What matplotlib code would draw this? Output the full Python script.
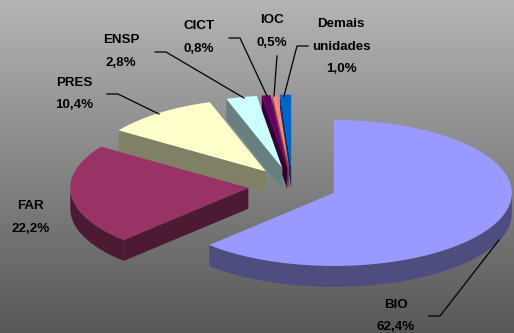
import numpy as np
import matplotlib
matplotlib.use("Agg")
import matplotlib.pyplot as plt
from matplotlib.patches import Polygon

categories = ["BIO", "FAR", "PRES", "ENSP", "CICT", "IOC", "Demais\nunidades"]
values = [62.4, 22.2, 10.4, 2.8, 0.8, 0.5, 1.0]
value_labels = ["62,4%", "22,2%", "10,4%", "2,8%", "0,8%", "0,5%", "1,0%"]
top_colors = ["#9999FF", "#993366", "#FFFFCC", "#CCFFFF", "#660066", "#FF8080", "#0066CC"]
side_colors = ["#4D4D80", "#4D1A33", "#808066", "#668080", "#330033", "#804040", "#003366"]
label_xy = [(396, 316), (30.5, 217.5), (74.5, 94), (121, 51.5), (199, 37.5), (272, 31.5), (341, 46.5)]
leaders = [
    [(429, 316), (440, 316), (499, 240)],
    None,
    [(107, 94), (118, 94), (159, 114)],
    [(155, 52), (166, 52), (244, 98)],
    [(229, 38), (240, 38), (267, 96)],
    [(277, 56), (274, 96)],
    [(308, 46), (297, 46), (284, 96)],
]

W, H = 514, 333
CX, CY, A, B, DEPTH, EXPLODE = 292.6, 186.0, 178.0, 73.0, 21.0, 0.25

fig = plt.figure(figsize=(W / 100, H / 100), dpi=100)
ax = fig.add_axes([0, 0, 1, 1])
ax.set_xlim(0, W)
ax.set_ylim(H, 0)
ax.axis("off")

grad = np.linspace(0, 1, 256).reshape(-1, 1)
ax.imshow(grad, extent=(0, W, H, 0), cmap=matplotlib.colors.LinearSegmentedColormap.from_list("g", ["#B4B4B4", "#585858"]),
          aspect="auto", zorder=0, interpolation="bilinear")

fractions = np.array(values) / np.sum(values)
edges = np.concatenate([[0], np.cumsum(fractions)]) * 2 * np.pi


def point(c, t):
    return c[0] + A * np.sin(t), c[1] - B * np.cos(t)


for i in range(len(values) - 1, -1, -1):
    s, e = edges[i], edges[i + 1]
    mid = (s + e) / 2
    c = (CX + EXPLODE * A * np.sin(mid), CY - EXPLODE * B * np.cos(mid))
    t = np.linspace(s, e, 200)
    px, py = point(c, t)
    z = 2 + (len(values) - i) * 0.1
    if np.sin(s) < 0:
        q = point(c, s)
        ax.add_patch(Polygon([c, q, (q[0], q[1] + DEPTH), (c[0], c[1] + DEPTH)],
                             fc=side_colors[i], ec="none", zorder=z))
    if np.sin(e) > 0:
        q = point(c, e)
        ax.add_patch(Polygon([c, q, (q[0], q[1] + DEPTH), (c[0], c[1] + DEPTH)],
                             fc=side_colors[i], ec="none", zorder=z))
    mask = np.cos(t) <= 0
    if mask.any():
        rx, ry = px[mask], py[mask]
        rim = list(zip(rx, ry)) + list(zip(rx[::-1], ry[::-1] + DEPTH))
        ax.add_patch(Polygon(rim, fc=side_colors[i], ec="none", zorder=z))
    ax.add_patch(Polygon([c] + list(zip(px, py)), fc=top_colors[i], ec="none", zorder=z + 0.01))

for pts in leaders:
    if pts:
        xs, ys = zip(*pts)
        ax.plot(xs, ys, color="black", lw=0.9, zorder=5, solid_joinstyle="miter")

for cat, val, (x, y) in zip(categories, value_labels, label_xy):
    ax.text(x, y, cat + "\n" + val, ha="center", va="center", family="Liberation Sans",
            fontweight="bold", fontsize=9.6, color="black", linespacing=2.15, zorder=6)

fig.savefig("out.png", dpi=100)
